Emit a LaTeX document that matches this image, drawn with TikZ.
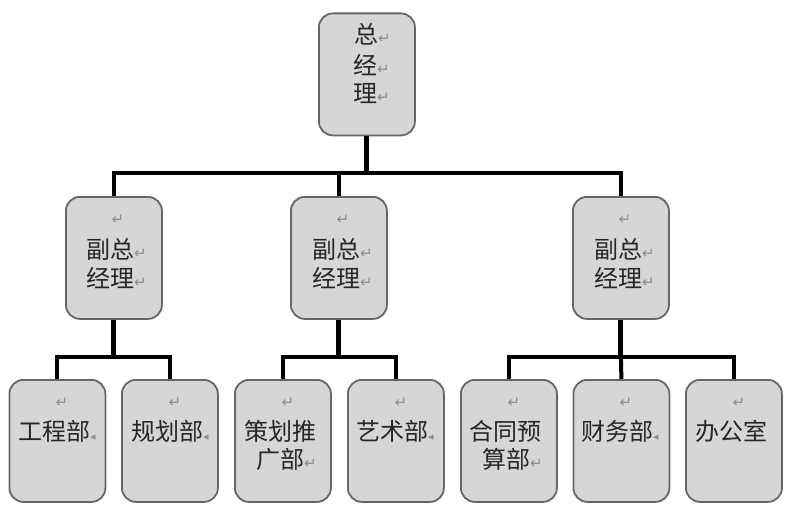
\documentclass[tikz,border=0pt]{standalone}
\usepackage{fontspec}
\setmainfont{Noto Sans CJK SC}
\newfontfamily\symfont{DejaVu Sans}
\definecolor{boxfill}{HTML}{D6D6D6}
\definecolor{boxline}{HTML}{666666}
\definecolor{markgray}{HTML}{8C8C8C}
\newcommand{\retm}{{\symfont\fontsize{15}{15}\selectfont\color{markgray}↵}}
\newcommand{\retc}{{\symfont\fontsize{11}{11}\selectfont\color{markgray}◂}}
\tikzset{
  orgbox/.style={draw=boxline,fill=boxfill,line width=1.8pt,rounded corners=14pt,minimum width=96pt,inner sep=0pt,anchor=north west},
  midbox/.style={orgbox,minimum height=122pt},
  conn/.style={draw=black,line width=4pt,line cap=butt},
  trunk/.style={draw=black,line width=5pt},
  txt/.style={anchor=west,inner sep=0pt,text=black!85,font=\fontsize{24}{26}\selectfont},
  onlymark/.style={anchor=center,inner sep=0pt}
}
\begin{document}
\begin{tikzpicture}[x=1pt,y=-1pt]
\useasboundingbox (0,0) rectangle (796,511);
% boxes
\node[midbox] (top) at (318,12.5) {};
\node[midbox] (vpa) at (65,196) {};
\node[midbox] (vpb) at (290,196) {};
\node[midbox] (vpc) at (572,196) {};
\node[midbox] (da) at (8.5,379) {};
\node[midbox] (db) at (121,379) {};
\node[midbox] (dc) at (234,379) {};
\node[midbox] (dd) at (347,379) {};
\node[midbox] (de) at (460,379) {};
\node[midbox] (df) at (572.5,379) {};
\node[midbox] (dg) at (685,379) {};
% buses
\coordinate (bus) at (top.south |- 0,173);
\coordinate (busa) at (vpa.south |- 0,357);
\coordinate (busb) at (vpb.south |- 0,357);
\coordinate (busc) at (vpc.south |- 0,357);
% connectors
\draw[conn] (bus) -| (vpa.north);
\draw[conn] (bus) -| (vpb.north);
\draw[conn] (bus) -| (vpc.north);
\draw[trunk] (top.south) -- (bus);
\draw[conn] (busa) -| (da.north);
\draw[conn] (busa) -| (db.north);
\draw[trunk] (vpa.south) -- (busa);
\draw[conn] (busb) -| (dc.north);
\draw[conn] (busb) -| (dd.north);
\draw[trunk] (vpb.south) -- (busb);
\draw[conn] (busc) -| (de.north);
\draw[conn] (busc) -| (dg.north);
\draw[conn] (busc) -- (df.north);
\draw[trunk] (vpc.south) -- (busc);
% text: top
\node[txt] (t1) at (354,34) {总\retm};
\node[txt] (t2) at (353,65) {经\retm};
\node[txt] (t3) at (353,94) {理\retm};
% text: deputies
\node[onlymark] (ma) at (118,220) {\retm};
\node[txt] (a1) at (86,249) {副总\retm};
\node[txt] (a2) at (86,278) {经理\retm};
\node[onlymark] (mb) at (343,220) {\retm};
\node[txt] (b1) at (312,249) {副总\retm};
\node[txt] (b2) at (312,278) {经理\retm};
\node[onlymark] (mc) at (625,220) {\retm};
\node[txt] (c1) at (594,249) {副总\retm};
\node[txt] (c2) at (594,278) {经理\retm};
% text: departments
\node[onlymark] (md) at (62,403) {\retm};
\node[txt] (d1) at (18,431) {工程部\retc};
\node[onlymark] (me) at (175,403) {\retm};
\node[txt] (e1) at (131,431) {规划部\retc};
\node[onlymark] (mf) at (288,403) {\retm};
\node[txt] (f1) at (244,431) {策划推};
\node[txt] (f2) at (256,459) {广部\retm};
\node[onlymark] (mg) at (401,403) {\retm};
\node[txt] (g1) at (356,431) {艺术部\retc};
\node[onlymark] (mh) at (514,403) {\retm};
\node[txt] (h1) at (469,431) {合同预};
\node[txt] (h2) at (482,459) {算部\retm};
\node[onlymark] (mi) at (626,403) {\retm};
\node[txt] (i1) at (581,431) {财务部\retc};
\node[onlymark] (mj) at (739,403) {\retm};
\node[txt] (j1) at (695,431) {办公室};
\end{tikzpicture}
\end{document}
